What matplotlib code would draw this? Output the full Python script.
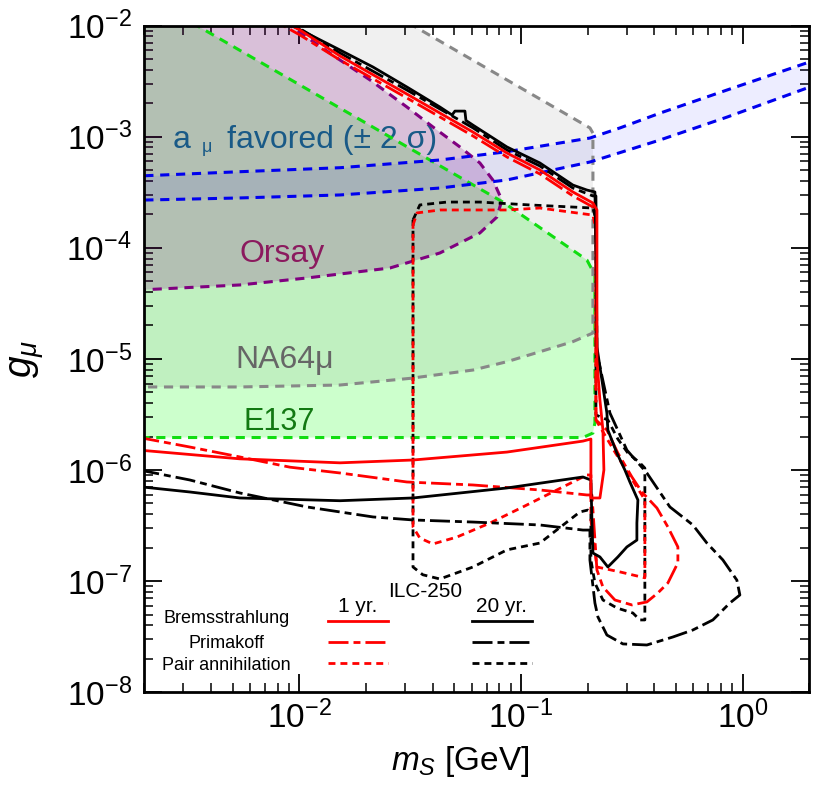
import numpy as np
import matplotlib
matplotlib.use("Agg")
import matplotlib.pyplot as plt
from matplotlib.ticker import FixedLocator, NullFormatter, LogFormatterMathtext

plt.rcParams['font.family'] = ['Liberation Sans', 'DejaVu Sans']
plt.rcParams['mathtext.fontset'] = 'custom'
plt.rcParams['mathtext.rm'] = 'Liberation Sans'
plt.rcParams['mathtext.it'] = 'Liberation Sans:italic'
plt.rcParams['mathtext.bf'] = 'Liberation Sans:bold'

# ---------------- data (m_S in GeV, g_mu) ----------------
# a_mu favoured band
amu_m = [0.002, 0.0054, 0.0153, 0.0431, 0.0865, 0.205, 0.280, 0.424, 0.850, 2.0]
amu_hi = [4.45e-4, 4.84e-4, 5.26e-4, 6.17e-4, 7.33e-4, 9.73e-4, 1.20e-3, 1.63e-3, 2.63e-3, 4.7e-3]
amu_lo = [2.69e-4, 2.81e-4, 2.99e-4, 3.45e-4, 4.08e-4, 5.92e-4, 7.19e-4, 9.34e-4, 1.50e-3, 2.79e-3]

# E137 excluded region
e137_m = [0.0019, 0.003456, 0.0829, 0.1985, 0.2157, 0.2157, 0.2113, 0.1904, 0.0019]
e137_g = [0.0199, 1e-2, 2.58e-4, 7.77e-5, 5.69e-5, 2.65e-6, 2.15e-6, 1.96e-6, 1.96e-6]

# NA64mu region
na64_m = [0.0019, 0.0179, 0.0326, 0.2048, 0.2113, 0.2113, 0.1716, 0.1218, 0.0865,
          0.0608, 0.0316, 0.01527, 0.0054, 0.0019]
na64_g = [0.02, 0.02, 1e-2, 1.20e-3, 1.077e-3, 1.71e-5, 1.43e-5, 1.16e-5, 9.44e-6,
          7.94e-6, 6.68e-6, 5.82e-6, 5.59e-6, 5.59e-6]

# Orsay region
orsay_m = [0.0019, 0.0075, 0.00908, 0.01527, 0.02087, 0.0306, 0.0401, 0.0531, 0.0653,
           0.0747, 0.0821, 0.0779, 0.0653, 0.0431, 0.02566, 0.01083, 0.0054, 0.0019]
orsay_g = [0.013, 0.013, 1e-2, 4.90e-3, 3.24e-3, 1.85e-3, 1.223e-3, 8.08e-4, 5.80e-4,
           4.08e-4, 2.69e-4, 1.89e-4, 1.36e-4, 8.98e-5, 6.58e-5, 5.35e-5, 4.63e-5, 4.17e-5]

# ILC-250 sensitivities
brem1_m = [0.0019, 0.0054, 0.01527, 0.0326, 0.0865, 0.1904, 0.2069, 0.2069, 0.2272,
           0.2368, 0.2344, 0.2272, 0.2203, 0.2203, 0.2113, 0.1716, 0.1218, 0.0865,
           0.0608, 0.0306, 0.01527, 0.01007, 0.0089]
brem1_g = [1.51e-6, 1.26e-6, 1.16e-6, 1.23e-6, 1.45e-6, 1.82e-6, 1.90e-6, 5.60e-7, 5.60e-7,
           1.0e-6, 2.29e-6, 4.27e-6, 9.77e-6, 2.19e-4, 2.53e-4, 3.18e-4, 5.02e-4, 7.13e-4,
           1.10e-3, 2.42e-3, 5.33e-3, 9.13e-3, 1.04e-2]

brem20_m = [0.0019, 0.00321, 0.0054, 0.01527, 0.0326, 0.0865, 0.1904, 0.2069, 0.2091,
            0.2113, 0.2272, 0.2468, 0.2738, 0.3007, 0.3336, 0.3336, 0.3371, 0.3102,
            0.2945, 0.2710, 0.2468, 0.2443, 0.2203, 0.218, 0.2157, 0.1985, 0.1716,
            0.1218, 0.0865, 0.0608, 0.0565, 0.0559, 0.0504, 0.0489, 0.0431, 0.0306,
            0.0215, 0.01527, 0.00927, 0.0085]
brem20_g = [7.08e-7, 6.34e-7, 5.60e-7, 5.29e-7, 5.60e-7, 6.89e-7, 8.65e-7, 8.13e-7, 3.55e-7,
            1.79e-7, 1.65e-7, 1.34e-7, 1.65e-7, 2.03e-7, 2.34e-7, 3.33e-7, 5.37e-7, 7.80e-7,
            1.0e-6, 1.42e-6, 2.29e-6, 3.26e-6, 1.28e-5, 9.55e-5, 3.18e-4, 3.31e-4, 3.67e-4,
            5.80e-4, 8.08e-4, 1.27e-3, 1.40e-3, 1.70e-3, 1.70e-3, 1.568e-3, 1.85e-3, 2.80e-3,
            4.24e-3, 6.03e-3, 1e-2, 1.1e-2]

prim1_m = [0.0019, 0.00321, 0.0054, 0.00908, 0.01527, 0.0306, 0.0608, 0.1218, 0.1985,
           0.2091, 0.2203, 0.2344, 0.2655, 0.3168, 0.3700, 0.4148, 0.4603, 0.5107, 0.5107,
           0.4603, 0.4107, 0.3513, 0.3168, 0.2738, 0.2443, 0.218, 0.218, 0.2113, 0.1716,
           0.1218, 0.0865, 0.0608, 0.0306, 0.01527, 0.01007, 0.0081]
prim1_g = [1.96e-6, 1.61e-6, 1.31e-6, 1.06e-6, 9.40e-7, 7.80e-7, 7.33e-7, 6.61e-7, 5.96e-7,
           5.96e-7, 1.26e-7, 8.85e-8, 6.76e-8, 6.10e-8, 6.49e-8, 7.82e-8, 9.62e-8, 1.46e-7,
           2.03e-7, 3.07e-7, 4.55e-7, 6.34e-7, 8.65e-7, 1.42e-6, 2.29e-6, 2.82e-6, 2.33e-4,
           2.33e-4, 2.93e-4, 4.62e-4, 6.57e-4, 1.015e-3, 2.23e-3, 4.90e-3, 8.23e-3, 1.05e-2]

prim20_m = [0.0019, 0.00321, 0.0054, 0.01083, 0.0215, 0.0326, 0.0608, 0.1218, 0.1904,
            0.2048, 0.2048, 0.2157, 0.2226, 0.2443, 0.2885, 0.3700, 0.4849, 0.5967, 0.7345,
            0.8765, 0.9723, 0.9425, 0.8150, 0.6902, 0.5967, 0.4700, 0.3700, 0.3007, 0.2521,
            0.2203, 0.218, 0.2113, 0.1716, 0.1218, 0.0865, 0.0608, 0.0306, 0.01527, 0.00956,
            0.0085]
prim20_g = [1.0e-6, 8.13e-7, 6.21e-7, 4.65e-7, 3.78e-7, 3.55e-7, 3.40e-7, 3.20e-7, 2.88e-7,
            2.88e-7, 1.55e-7, 6.35e-8, 4.75e-8, 3.27e-8, 2.72e-8, 2.66e-8, 3.14e-8, 3.63e-8,
            4.47e-8, 6.35e-8, 7.50e-8, 1.02e-7, 1.55e-7, 2.20e-7, 3.20e-7, 4.65e-7, 9.40e-7,
            1.51e-6, 3.26e-6, 1.13e-5, 2.93e-4, 2.93e-4, 3.45e-4, 5.45e-4, 7.59e-4, 1.20e-3,
            2.63e-3, 5.67e-3, 1e-2, 1.13e-2]

pair1_m = [0.0326, 0.0340, 0.0431, 0.0865, 0.1218, 0.2113, 0.218, 0.218, 0.2655, 0.3039,
           0.3513, 0.3624, 0.3624, 0.2796, 0.2203, 0.2069, 0.2069, 0.1985, 0.1453, 0.1021,
           0.0725, 0.0514, 0.0401, 0.0350, 0.0326, 0.0326]
pair1_g = [1.60e-4, 2.06e-4, 2.19e-4, 2.19e-4, 2.28e-4, 1.97e-4, 1.45e-4, 2.82e-6, 1.45e-6,
           9.40e-7, 5.96e-7, 5.37e-7, 1.07e-7, 1.21e-7, 1.34e-7, 3.55e-7, 9.02e-7, 9.02e-7,
           6.61e-7, 4.65e-7, 3.33e-7, 2.49e-7, 2.16e-7, 2.44e-7, 3.07e-7, 1.60e-4]

pair20_m = [0.0326, 0.0350, 0.0464, 0.0653, 0.1098, 0.2113, 0.218, 0.218, 0.2468, 0.2738,
            0.3039, 0.3441, 0.3624, 0.3624, 0.3441, 0.3200, 0.2710, 0.2344, 0.2157, 0.2069,
            0.2069, 0.2005, 0.1845, 0.1218, 0.0865, 0.0608, 0.0431, 0.0361, 0.0326, 0.0326]
pair20_g = [1.78e-4, 2.43e-4, 2.58e-4, 2.58e-4, 2.43e-4, 2.28e-4, 1.78e-4, 3.13e-6, 2.82e-6,
            1.90e-6, 1.42e-6, 1.16e-6, 1.04e-6, 4.47e-8, 4.47e-8, 5.16e-8, 5.73e-8, 6.76e-8,
            9.62e-8, 1.55e-7, 4.19e-7, 4.36e-7, 4.19e-7, 2.20e-7, 1.91e-7, 1.34e-7, 1.045e-7,
            1.14e-7, 1.34e-7, 1.78e-4]

row_labels = ["Bremsstrahlung", "Primakoff", "Pair annihilation"]
col_labels = ["1 yr.", "20 yr."]
xticks_major = [1e-2, 1e-1, 1e0]
yticks_major = [1e-8, 1e-7, 1e-6, 1e-5, 1e-4, 1e-3, 1e-2]

# ---------------- figure ----------------
fig = plt.figure(figsize=(8.3, 8.07), dpi=100)
ax = fig.add_axes([0.17386, 0.14226, 0.80120, 0.82602])
ax.set_xscale('log')
ax.set_yscale('log')
ax.set_xlim(2e-3, 2)
ax.set_ylim(1e-8, 1e-2)

# filled regions
ax.fill(e137_m, e137_g, color='#ccffcc', lw=0, zorder=1)
ax.fill(na64_m, na64_g, color='black', alpha=0.06, lw=0, zorder=2)
ax.fill(orsay_m, orsay_g, color='#800080', alpha=0.2, lw=0, zorder=3)
ax.fill_between(amu_m, amu_lo, amu_hi, color='blue', alpha=0.07, lw=0, zorder=4)

bd = dict(lw=2.2, dashes=(3, 2.2), zorder=5)
ax.plot(e137_m, e137_g, color='#11dd11', **bd)
ax.plot(na64_m[1:], na64_g[1:], color='#888888', **bd)
ax.plot(orsay_m[1:], orsay_g[1:], color='#800080', **bd)
ax.plot(amu_m, amu_lo, color='#0000ee', **bd)
ax.plot(amu_m, amu_hi, color='#0000ee', **bd)

# sensitivity curves
DD = (7.2, 1.8, 2.5, 1.8)
SD = (2.5, 1.8)
ax.plot(pair20_m, pair20_g, color='black', lw=2, dashes=SD, zorder=6)
ax.plot(pair1_m, pair1_g, color='red', lw=2, dashes=SD, zorder=6)
ax.plot(prim20_m, prim20_g, color='black', lw=2, dashes=DD, zorder=7)
ax.plot(prim1_m, prim1_g, color='red', lw=2, dashes=DD, zorder=7)
ax.plot(brem20_m, brem20_g, color='black', lw=2, zorder=8)
ax.plot(brem1_m, brem1_g, color='red', lw=2, zorder=8)

# region labels
ax.text(0.0432, 0.8164, "a", transform=ax.transAxes, fontsize=23, color='#195a87')
ax.text(0.0870, 0.8104, "μ", transform=ax.transAxes, fontsize=13, color='#195a87')
ax.text(0.1244, 0.8164, "favored (± 2 σ)", transform=ax.transAxes, fontsize=23,
        color='#195a87')
ax.text(0.1439, 0.6454, "Orsay", transform=ax.transAxes, fontsize=23, color='#8b1a5e')
ax.text(0.1365, 0.4864, "NA64μ", transform=ax.transAxes, fontsize=23, color='#666666')
ax.text(0.1485, 0.3933, "E137", transform=ax.transAxes, fontsize=22, color='#127812')

# legend block
ax.text(0.4221, 0.1428, "ILC-250", transform=ax.transAxes, fontsize=15, ha='center')
ax.text(0.3213, 0.1203, col_labels[0], transform=ax.transAxes, fontsize=15, ha='center')
ax.text(0.5365, 0.1203, col_labels[1], transform=ax.transAxes, fontsize=15, ha='center')
row_y = [0.1038, 0.0668, 0.0333]
line_y = [0.1074, 0.0758, 0.0434]
styles = [None, DD, SD]
for lab, ty, ly, st in zip(row_labels, row_y, line_y, styles):
    ax.text(0.1232, ty, lab, transform=ax.transAxes, fontsize=13, ha='center')
    for (x0, x1), c in zip([(0.2763, 0.3665), (0.4928, 0.5830)], ['red', 'black']):
        kw = dict(color=c, lw=2, transform=ax.transAxes, zorder=9)
        if st is not None:
            kw['dashes'] = st
        ax.plot([x0, x1], [ly, ly], **kw)

# axes styling
ax.xaxis.set_major_locator(FixedLocator(xticks_major))
ax.yaxis.set_major_locator(FixedLocator(yticks_major))
minor_x = [k * 10.0 ** e for e in range(-3, 1) for k in range(2, 10)]
minor_y = [k * 10.0 ** e for e in range(-8, -2) for k in range(2, 10)]
ax.xaxis.set_minor_locator(FixedLocator([v for v in minor_x if 2e-3 <= v <= 2]))
ax.yaxis.set_minor_locator(FixedLocator(minor_y))
ax.xaxis.set_major_formatter(LogFormatterMathtext())
ax.yaxis.set_major_formatter(LogFormatterMathtext())
ax.xaxis.set_minor_formatter(NullFormatter())
ax.yaxis.set_minor_formatter(NullFormatter())
ax.tick_params(which='both', direction='in', top=True, right=True)
ax.tick_params(which='major', length=13, width=1.3, labelsize=24)
ax.tick_params(which='minor', length=6.5, width=1.1)
ax.tick_params(axis='x', which='major', pad=6)
ax.tick_params(axis='y', which='major', pad=9)
for s in ax.spines.values():
    s.set_linewidth(2)
    s.set_zorder(10)

ax.set_xlabel(r"$m_S$ [GeV]", fontsize=24)
ax.xaxis.set_label_coords(0.4747, -0.078)
ax.set_ylabel(r"$g_\mu$", fontsize=28, labelpad=14)

fig.savefig("out.png", dpi=100)
